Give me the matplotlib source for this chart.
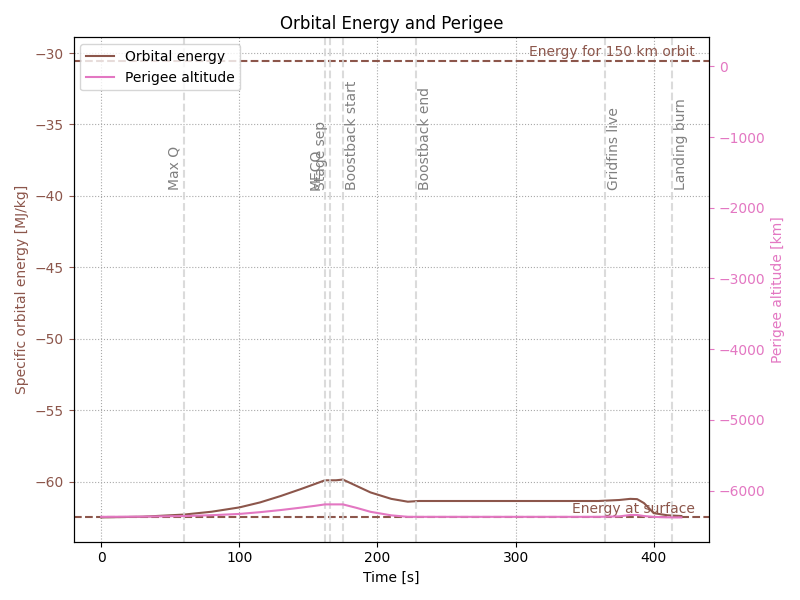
import numpy as np
import matplotlib
matplotlib.use("Agg")
import matplotlib.pyplot as plt

t = [0, 30, 60, 80, 100, 115, 130, 145, 155, 162, 170, 175, 185, 195, 210, 222, 230, 300, 360, 375, 383, 388, 393, 400, 410, 420]
energy = [-62.5, -62.45, -62.3, -62.1, -61.8, -61.45, -61.0, -60.5, -60.15, -59.9, -59.9, -59.85, -60.3, -60.75, -61.2, -61.4, -61.35, -61.35, -61.35, -61.28, -61.2, -61.22, -61.5, -62.2, -62.35, -62.4]
perigee = [-6371, -6368, -6360, -6348, -6330, -6305, -6275, -6240, -6215, -6195, -6195, -6195, -6245, -6300, -6350, -6371, -6371, -6371, -6371, -6365, -6345, -6345, -6360, -6372, -6378, -6380]

events = ["Max Q", "MECO", "Stage sep", "Boostback start", "Boostback end", "Gridfins live", "Landing burn"]
event_t = [60, 162, 166, 175, 228, 365, 413]
event_side = ["left", "left", "left", "right", "right", "right", "right"]
e_surface = -62.5
e_orbit = -30.53

fig, ax = plt.subplots(figsize=(8, 6), dpi=100)
ax2 = ax.twinx()
c1, c2 = "tab:brown", "tab:pink"

ax.plot(t, energy, color=c1, label="Orbital energy")
l2, = ax2.plot(t, perigee, color=c2, label="Perigee altitude")
ax.axhline(e_surface, color=c1, ls="--")
ax.axhline(e_orbit, color=c1, ls="--")
ax.text(430, e_surface + 0.1, "Energy at surface", color=c1, ha="right", va="bottom")
ax.text(430, e_orbit + 0.1, "Energy for 150 km orbit", color=c1, ha="right", va="bottom")
for name, x, side in zip(events, event_t, event_side):
    ax.axvline(x, color="lightgray", ls="--", alpha=0.8)
    if side == "left":
        ax.text(x - 1.5, -39.6, name, rotation=90, color="gray", ha="right", va="bottom")
    else:
        ax.text(x + 1.5, -39.6, name, rotation=90, color="gray", ha="left", va="bottom")

ax.set_xlim(-20, 440)
ax.set_ylim(-64.2, -28.9)
ax2.set_ylim(-6723, 410)
ax.grid(True, ls=":", color="darkgray")
ax.set_xlabel("Time [s]")
ax.set_ylabel("Specific orbital energy [MJ/kg]", color=c1)
ax2.set_ylabel("Perigee altitude [km]", color=c2)
ax.tick_params(axis="y", colors=c1)
ax2.tick_params(axis="y", colors=c2)
ax.set_title("Orbital Energy and Perigee")
h1, lab1 = ax.get_legend_handles_labels()
ax.legend(h1 + [l2], lab1 + ["Perigee altitude"], loc="upper left")
fig.tight_layout()
fig.savefig("out.png")
